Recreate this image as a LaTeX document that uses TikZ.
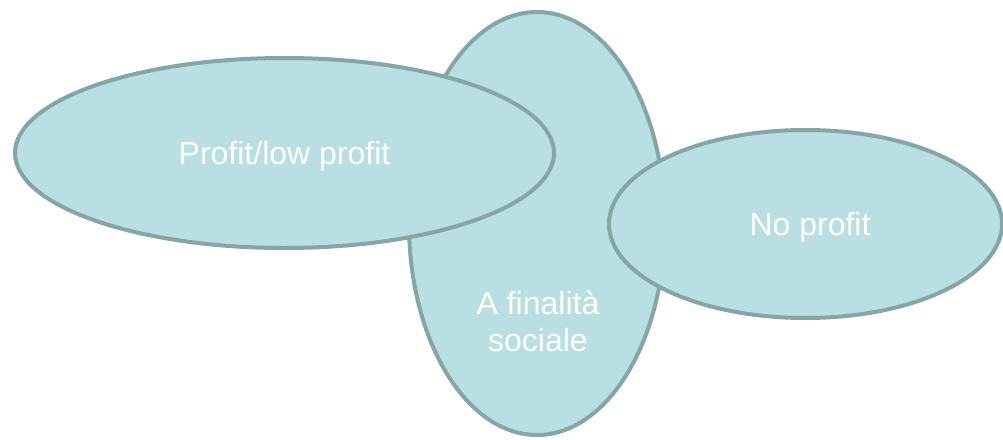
\documentclass[tikz,border=0pt]{standalone}
\usepackage{fontspec}
\setmainfont{Liberation Sans}
\usetikzlibrary{shapes.geometric}
\definecolor{fillc}{HTML}{B9DFE2}
\definecolor{linec}{HTML}{86A5A6}
\tikzset{
  blob/.style={ellipse, draw=linec, fill=fillc, line width=4pt, inner sep=0pt},
  lbl/.style={text=white, font=\fontsize{32}{37}\selectfont, align=center, inner sep=0pt}
}
\begin{document}
\begin{tikzpicture}[x=1pt,y=-1pt]
\useasboundingbox (0,0) rectangle (1003,439);
\node[blob, minimum width=256pt, minimum height=423pt] (soc) at (537,223.5) {};
\node[blob, minimum width=539pt, minimum height=190pt] (prof) at (284.5,153) {};
\node[blob, minimum width=393pt, minimum height=188pt] (nop) at (805.5,224) {};
\node[lbl] (tprof) at (284.5,156) {Profit/low profit};
\node[lbl] (tnop) at (810,227) {No profit};
\node[lbl] (tsoc) at (538,321) {A finalità\\sociale};
\end{tikzpicture}
\end{document}
